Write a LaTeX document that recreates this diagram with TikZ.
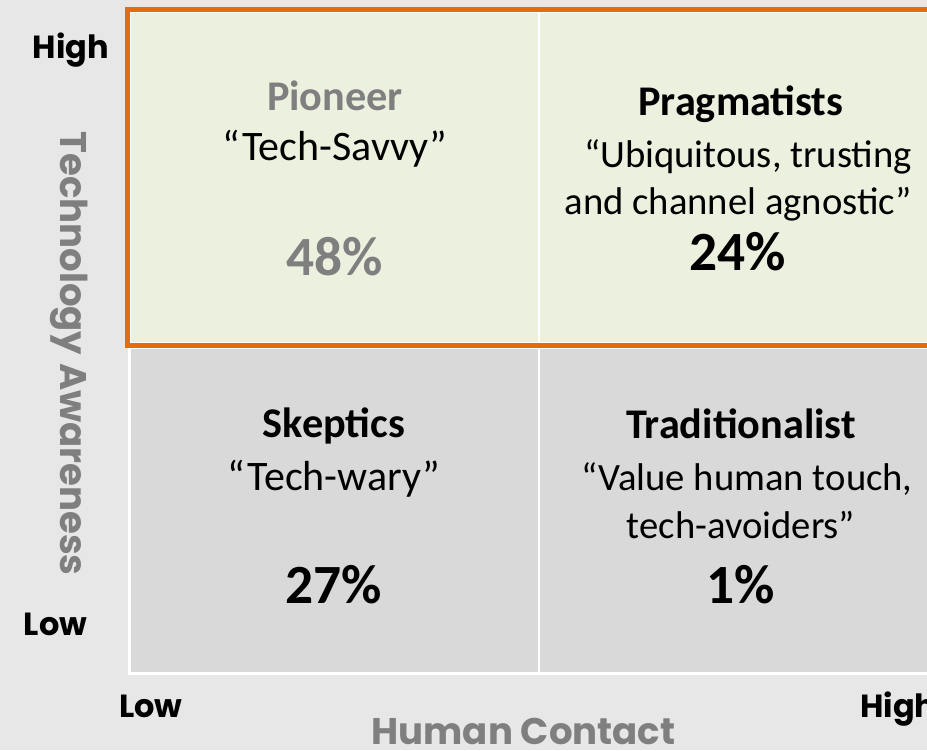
\documentclass[tikz,border=0pt]{standalone}
\usepackage{fontspec}
\setmainfont{Carlito}
\newfontfamily\axisfont{Poppins}
\usepackage{tikz}

\definecolor{bggrey}{HTML}{E7E7E7}
\definecolor{quadgreen}{HTML}{EBF0DF}
\definecolor{quadgrey}{HTML}{D9D9D9}
\definecolor{edgeorange}{HTML}{E46C0A}
\definecolor{labelgrey}{HTML}{7F7F7F}

\begin{document}
\begin{tikzpicture}[x=0.75pt, y=-0.75pt,
    title/.style={anchor=base, inner sep=0pt, font=\fontsize{31.7}{38}\selectfont\bfseries},
    quote/.style={anchor=base, inner sep=0pt, font=\fontsize{29}{35}\selectfont},
    bigquote/.style={quote, font=\fontsize{31.5}{38}\selectfont},
    pct/.style={anchor=base, inner sep=0pt, font=\fontsize{41.5}{50}\selectfont\bfseries},
    axislbl/.style={anchor=base, inner sep=0pt, font=\axisfont\fontsize{24}{28}\selectfont\bfseries},
    axistitle/.style={anchor=base, inner sep=0pt, text=labelgrey, font=\axisfont\fontsize{27.8}{32}\selectfont\bfseries}]
      \useasboundingbox (0,0) rectangle (927,750);
      \clip (0,0) rectangle (927,750);
      \fill[bggrey] (0,0) rectangle (927,750);
      % quadrants
      \fill[white] (128,10) rectangle (960,675);
      \fill[quadgreen] (131,13) rectangle (537.5,342);
      \fill[quadgreen] (539.5,13) rectangle (960,342);
      \fill[quadgrey] (131,349) rectangle (537.5,672);
      \fill[quadgrey] (539.5,349) rectangle (960,672);
      \draw[edgeorange, line width=3.4pt] (127.5,9.5) rectangle (962,345.5);
      % top left
      \node[title, text=labelgrey] (pioneer) at (335,110) {Pioneer};
      \node[bigquote] (pioneerq) at (335,160) {“Tech-Savvy”};
      \node[pct, text=labelgrey] (pioneerp) at (335,275) {48\%};
      % top right
      \node[title] (pragm) at (741,115) {Pragmatists};
      \node[quote] (pragmq1) at (748,167) {“Ubiquitous, trusting};
      \node[quote] (pragmq2) at (738,214) {and channel agnostic”};
      \node[pct] (pragmp) at (738,270) {24\%};
      % bottom left
      \node[title] (skept) at (334,437) {Skeptics};
      \node[bigquote] (skeptq) at (334,490) {“Tech-wary”};
      \node[pct] (skeptp) at (334,603) {27\%};
      % bottom right
      \node[title] (tradit) at (741,438) {Traditionalist};
      \node[quote] (traditq1) at (747,490) {“Value human touch,};
      \node[quote] (traditq2) at (741,538) {tech-avoiders”};
      \node[pct] (traditp) at (741,603) {1\%};
      % axes
      \node[axislbl] (yhigh) at (71,58) {High};
      \node[axislbl] (ylow) at (55.5,635) {Low};
      \node[axislbl] (xlow) at (151,717) {Low};
      \node[axislbl, anchor=base west] (xhigh) at (860,717) {High};
      \node[axistitle] (xtitle) at (523.5,744) {Human Contact};
      \node[axistitle, rotate=-90] (ytitle) at (60,353.5) {Technology Awareness};
\end{tikzpicture}
\end{document}
